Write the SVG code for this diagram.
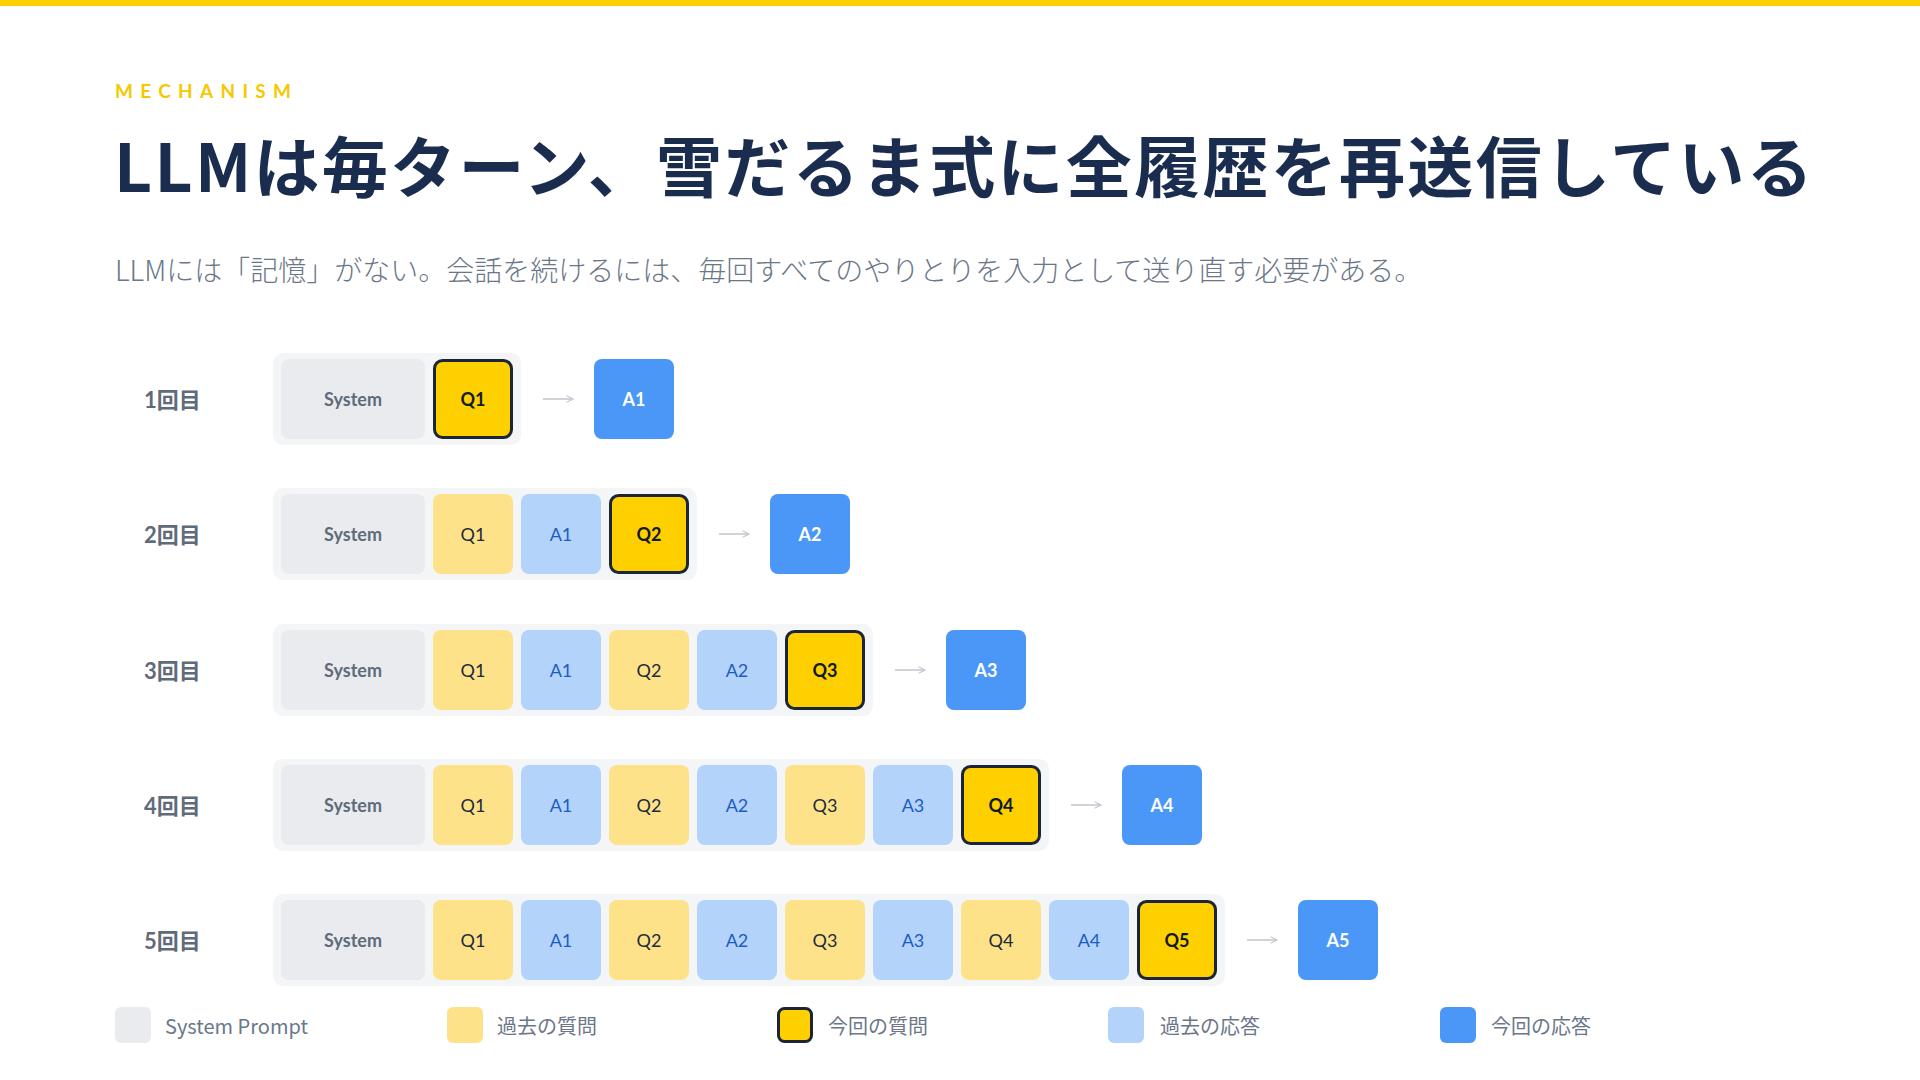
<svg xmlns="http://www.w3.org/2000/svg" width="1920" height="1080" viewBox="0 0 1920 1080">
<defs>
<style>
.cont{fill:#f4f5f7}
.sys{fill:#e9ebef}
.pq{fill:#fde28a}
.pa{fill:#b3d3fb}
.cq{fill:#fed000;stroke:#1b2535;stroke-width:3}
.ca{fill:#4a97f8}
.t{font-family:Lato,"Noto Sans",sans-serif;font-size:18px;text-anchor:middle;dominant-baseline:central}
.tsys{fill:#5f6b7a;font-weight:700}
.tpq{fill:#1f2a3a;font-weight:400}
.tpa{fill:#1d5cc0;font-weight:400}
.tcq{fill:#111a28;font-weight:700}
.tca{fill:#ffffff;font-weight:700}
.rl{font-family:Lato,"Noto Sans CJK JP",sans-serif;font-size:22px;font-weight:700;fill:#5f6b7a;dominant-baseline:central}
.lg{font-family:"Noto Sans CJK JP","Noto Sans",sans-serif;font-size:20px;fill:#6b7788;dominant-baseline:central}
.arr{stroke:#c5c9d0;stroke-width:1.6;fill:none}
</style>
<marker id="ah" viewBox="0 0 10 10" refX="9" refY="5" markerWidth="8" markerHeight="8" markerUnits="userSpaceOnUse" orient="auto">
<path d="M1,1 L9,5 L1,9" fill="none" stroke="#c5c9d0" stroke-width="1.4"/>
</marker>
</defs>
<rect x="0" y="0" width="1920" height="1080" fill="#ffffff"/>
<rect x="0" y="0" width="1920" height="6" fill="#fed000"/>
<text x="115" y="98" font-family="Lato,'Noto Sans',sans-serif" font-size="19" font-weight="700" letter-spacing="7.3" fill="#f5c800">MECHANISM</text>
<text x="114" y="192" font-family="'Noto Sans CJK JP','Noto Sans',sans-serif" font-size="66" font-weight="700" letter-spacing="2.3" fill="#1b2d4f">LLMは毎ターン、雪だるま式に全履歴を再送信している</text>
<text x="115" y="281" font-family="'Noto Sans CJK JP','Noto Sans',sans-serif" font-size="28" font-weight="300" fill="#6b7788">LLMには「記憶」がない。会話を続けるには、毎回すべてのやりとりを入力として送り直す必要がある。</text>

<g id="row1">
<text class="rl" x="144" y="399">1回目</text>
<rect class="cont" x="273" y="353" width="248" height="92" rx="10"/>
<g id="r1-system"><rect class="sys" x="281" y="359" width="144" height="80" rx="8"/><text class="t tsys" x="353" y="399">System</text></g>
<g id="r1-q1"><rect class="cq" x="434.5" y="360.5" width="77" height="77" rx="8"/><text class="t tcq" x="473" y="399">Q1</text></g>
<g id="r1-a1"><rect class="ca" x="594" y="359" width="80" height="80" rx="8"/><text class="t tca" x="634" y="399">A1</text></g>
</g>

<g id="row2">
<text class="rl" x="144" y="534">2回目</text>
<rect class="cont" x="273" y="488" width="424" height="92" rx="10"/>
<g id="r2-system"><rect class="sys" x="281" y="494" width="144" height="80" rx="8"/><text class="t tsys" x="353" y="534">System</text></g>
<g id="r2-q1"><rect class="pq" x="433" y="494" width="80" height="80" rx="8"/><text class="t tpq" x="473" y="534">Q1</text></g>
<g id="r2-a1"><rect class="pa" x="521" y="494" width="80" height="80" rx="8"/><text class="t tpa" x="561" y="534">A1</text></g>
<g id="r2-q2"><rect class="cq" x="610.5" y="495.5" width="77" height="77" rx="8"/><text class="t tcq" x="649" y="534">Q2</text></g>
<g id="r2-a2"><rect class="ca" x="770" y="494" width="80" height="80" rx="8"/><text class="t tca" x="810" y="534">A2</text></g>
</g>

<g id="row3">
<text class="rl" x="144" y="670">3回目</text>
<rect class="cont" x="273" y="624" width="600" height="92" rx="10"/>
<g id="r3-system"><rect class="sys" x="281" y="630" width="144" height="80" rx="8"/><text class="t tsys" x="353" y="670">System</text></g>
<g id="r3-q1"><rect class="pq" x="433" y="630" width="80" height="80" rx="8"/><text class="t tpq" x="473" y="670">Q1</text></g>
<g id="r3-a1"><rect class="pa" x="521" y="630" width="80" height="80" rx="8"/><text class="t tpa" x="561" y="670">A1</text></g>
<g id="r3-q2"><rect class="pq" x="609" y="630" width="80" height="80" rx="8"/><text class="t tpq" x="649" y="670">Q2</text></g>
<g id="r3-a2"><rect class="pa" x="697" y="630" width="80" height="80" rx="8"/><text class="t tpa" x="737" y="670">A2</text></g>
<g id="r3-q3"><rect class="cq" x="786.5" y="631.5" width="77" height="77" rx="8"/><text class="t tcq" x="825" y="670">Q3</text></g>
<g id="r3-a3"><rect class="ca" x="946" y="630" width="80" height="80" rx="8"/><text class="t tca" x="986" y="670">A3</text></g>
</g>

<g id="row4">
<text class="rl" x="144" y="805">4回目</text>
<rect class="cont" x="273" y="759" width="776" height="92" rx="10"/>
<g id="r4-system"><rect class="sys" x="281" y="765" width="144" height="80" rx="8"/><text class="t tsys" x="353" y="805">System</text></g>
<g id="r4-q1"><rect class="pq" x="433" y="765" width="80" height="80" rx="8"/><text class="t tpq" x="473" y="805">Q1</text></g>
<g id="r4-a1"><rect class="pa" x="521" y="765" width="80" height="80" rx="8"/><text class="t tpa" x="561" y="805">A1</text></g>
<g id="r4-q2"><rect class="pq" x="609" y="765" width="80" height="80" rx="8"/><text class="t tpq" x="649" y="805">Q2</text></g>
<g id="r4-a2"><rect class="pa" x="697" y="765" width="80" height="80" rx="8"/><text class="t tpa" x="737" y="805">A2</text></g>
<g id="r4-q3"><rect class="pq" x="785" y="765" width="80" height="80" rx="8"/><text class="t tpq" x="825" y="805">Q3</text></g>
<g id="r4-a3"><rect class="pa" x="873" y="765" width="80" height="80" rx="8"/><text class="t tpa" x="913" y="805">A3</text></g>
<g id="r4-q4"><rect class="cq" x="962.5" y="766.5" width="77" height="77" rx="8"/><text class="t tcq" x="1001" y="805">Q4</text></g>
<g id="r4-a4"><rect class="ca" x="1122" y="765" width="80" height="80" rx="8"/><text class="t tca" x="1162" y="805">A4</text></g>
</g>

<g id="row5">
<text class="rl" x="144" y="940">5回目</text>
<rect class="cont" x="273" y="894" width="952" height="92" rx="10"/>
<g id="r5-system"><rect class="sys" x="281" y="900" width="144" height="80" rx="8"/><text class="t tsys" x="353" y="940">System</text></g>
<g id="r5-q1"><rect class="pq" x="433" y="900" width="80" height="80" rx="8"/><text class="t tpq" x="473" y="940">Q1</text></g>
<g id="r5-a1"><rect class="pa" x="521" y="900" width="80" height="80" rx="8"/><text class="t tpa" x="561" y="940">A1</text></g>
<g id="r5-q2"><rect class="pq" x="609" y="900" width="80" height="80" rx="8"/><text class="t tpq" x="649" y="940">Q2</text></g>
<g id="r5-a2"><rect class="pa" x="697" y="900" width="80" height="80" rx="8"/><text class="t tpa" x="737" y="940">A2</text></g>
<g id="r5-q3"><rect class="pq" x="785" y="900" width="80" height="80" rx="8"/><text class="t tpq" x="825" y="940">Q3</text></g>
<g id="r5-a3"><rect class="pa" x="873" y="900" width="80" height="80" rx="8"/><text class="t tpa" x="913" y="940">A3</text></g>
<g id="r5-q4"><rect class="pq" x="961" y="900" width="80" height="80" rx="8"/><text class="t tpq" x="1001" y="940">Q4</text></g>
<g id="r5-a4"><rect class="pa" x="1049" y="900" width="80" height="80" rx="8"/><text class="t tpa" x="1089" y="940">A4</text></g>
<g id="r5-q5"><rect class="cq" x="1138.5" y="901.5" width="77" height="77" rx="8"/><text class="t tcq" x="1177" y="940">Q5</text></g>
<g id="r5-a5"><rect class="ca" x="1298" y="900" width="80" height="80" rx="8"/><text class="t tca" x="1338" y="940">A5</text></g>
</g>

<g id="connectors">
<line class="arr" x1="543" y1="399" x2="573" y2="399" marker-end="url(#ah)"/>
<line class="arr" x1="719" y1="534" x2="749" y2="534" marker-end="url(#ah)"/>
<line class="arr" x1="895" y1="670" x2="925" y2="670" marker-end="url(#ah)"/>
<line class="arr" x1="1071" y1="805" x2="1101" y2="805" marker-end="url(#ah)"/>
<line class="arr" x1="1247" y1="940" x2="1277" y2="940" marker-end="url(#ah)"/>
</g>

<g id="legend">
<g id="lg-system"><rect class="sys" x="115" y="1007" width="36" height="36" rx="6"/><text class="lg" x="165" y="1025">System Prompt</text></g>
<g id="lg-pq"><rect class="pq" x="447" y="1007" width="36" height="36" rx="6"/><text class="lg" x="497" y="1025">過去の質問</text></g>
<g id="lg-cq"><rect class="cq" x="778.5" y="1008.5" width="33" height="33" rx="6"/><text class="lg" x="828" y="1025">今回の質問</text></g>
<g id="lg-pa"><rect class="pa" x="1108" y="1007" width="36" height="36" rx="6"/><text class="lg" x="1160" y="1025">過去の応答</text></g>
<g id="lg-ca"><rect class="ca" x="1440" y="1007" width="36" height="36" rx="6"/><text class="lg" x="1491" y="1025">今回の応答</text></g>
</g>
</svg>
